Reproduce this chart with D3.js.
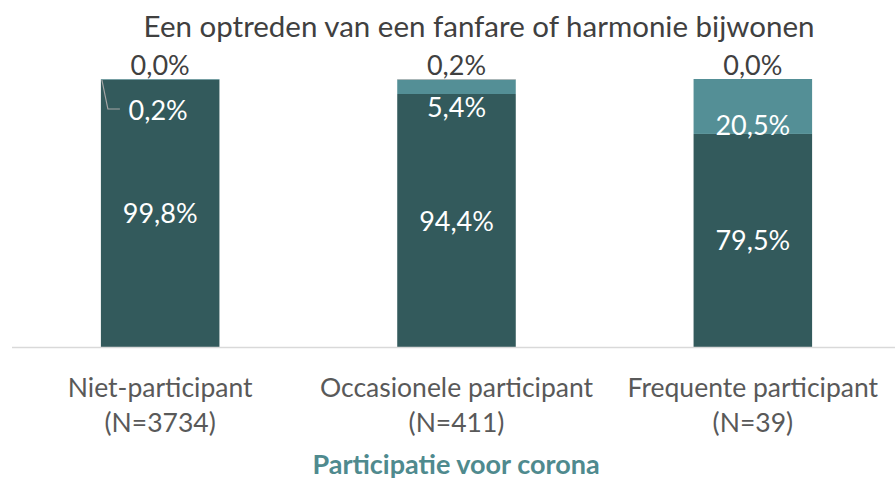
<!DOCTYPE html>
<html>
<head>
<meta charset="utf-8">
<script src="https://cdn.jsdelivr.net/npm/d3@7"></script>
<style>
body{margin:0;background:#fff;}
text{font-family:Lato,"Open Sans",sans-serif;}
</style>
</head>
<body>
<svg id="chart" width="895" height="479"></svg>
<script>
// data
var categories = ["Niet-participant", "Occasionele participant", "Frequente participant"];
var counts = ["(N=3734)", "(N=411)", "(N=39)"];
var seriesNames = ["nee", "ja", "onbekend"];
var valNee = [99.8, 94.4, 79.5];
var valJa = [0.2, 5.4, 20.5];
var valOnb = [0.0, 0.2, 0.0];
var title = "Een optreden van een fanfare of harmonie bijwonen";
var axisTitle = "Participatie voor corona";

var COLORS = ["#335A5C", "#548F96", "#A5A5A5"];
var svg = d3.select("#chart");

var x = d3.scaleBand().domain(categories).range([12, 901]).paddingInner(0.6).paddingOuter(0.3);
var y = d3.scaleLinear().domain([0, 100]).range([347, 79]);

var rows = categories.map(function(c, i){
	return {cat: c, nee: valNee[i], ja: valJa[i], onbekend: valOnb[i]};
});
var stack = d3.stack().keys(seriesNames)(rows);

//---------------- title --------------------
svg.append("text").attr("x", 479).attr("y", 37).attr("text-anchor", "middle")
	.style("font-size", "29.5px").style("fill", "#404040").text(title);

//---------------- bars --------------------
var gBars = svg.append("g");
stack.forEach(function(s, si){
	gBars.selectAll(null).data(s).enter().append("rect")
		.attr("x", function(d){ return x(d.data.cat); })
		.attr("y", function(d){ return y(d[1]); })
		.attr("width", x.bandwidth())
		.attr("height", function(d){ return y(d[0]) - y(d[1]); })
		.style("fill", COLORS[si]);
});

//---------------- axis line --------------------
svg.append("line").attr("x1", 12).attr("x2", 895).attr("y1", 347.5).attr("y2", 347.5)
	.style("stroke", "#d9d9d9").style("stroke-width", 1.5);

//---------------- labels --------------------
function fmt(v){ return v.toFixed(1).replace(".", ",") + "%"; }
var gLab = svg.append("g").style("font-size", "27px");
// nee: centre of segment
stack[0].forEach(function(d){
	gLab.append("text").attr("x", x(d.data.cat) + x.bandwidth()/2)
		.attr("y", (y(d[0]) + y(d[1]))/2 + 10).attr("text-anchor", "middle")
		.style("fill", "#fff").text(fmt(d[1] - d[0]));
});
// ja: placed under the bar top (Excel moved them there)
stack[1].forEach(function(d, i){
	var cx = x(d.data.cat) + x.bandwidth()/2;
	var h = y(d[0]) - y(d[1]);
	var ly = h < 5 ? y(100) + 41 : (h < 30 ? y(100) + 38 : y(d[0]) + 1);
	gLab.append("text").attr("x", h < 5 ? cx - 2 : cx).attr("y", ly).attr("text-anchor", "middle")
		.style("fill", "#fff").text(fmt(d[1] - d[0]));
	if (h < 5){
		// leader line
		var x0 = x(d.data.cat);
		gLab.append("path")
			.attr("d", "M" + (x0 + 1) + "," + (y(100) + 1) + "L" + (x0 + 7) + "," + (y(100) + 30) + "L" + (x0 + 19) + "," + (y(100) + 30))
			.style("fill", "none").style("stroke", "#a6a6a6").style("stroke-width", 1.2);
	}
});
// onbekend: above the bar
stack[2].forEach(function(d){
	gLab.append("text").attr("x", x(d.data.cat) + x.bandwidth()/2)
		.attr("y", y(d[1]) - 4).attr("text-anchor", "middle")
		.style("fill", "#404040").text(fmt(d[1] - d[0]));
});

//---------------- category labels --------------------
var gAx = svg.append("g").style("font-size", "26.5px").style("fill", "#595959");
categories.forEach(function(c, i){
	var cx = x(c) + x.bandwidth()/2;
	gAx.append("text").attr("x", cx).attr("y", 397).attr("text-anchor", "middle").text(c);
	gAx.append("text").attr("x", cx).attr("y", 432).attr("text-anchor", "middle").text(counts[i]);
});

svg.append("text").attr("x", 456).attr("y", 474).attr("text-anchor", "middle")
	.style("font-size", "27px").style("font-weight", "bold").style("fill", "#4F8A8E").text(axisTitle);
</script>
</body>
</html>
